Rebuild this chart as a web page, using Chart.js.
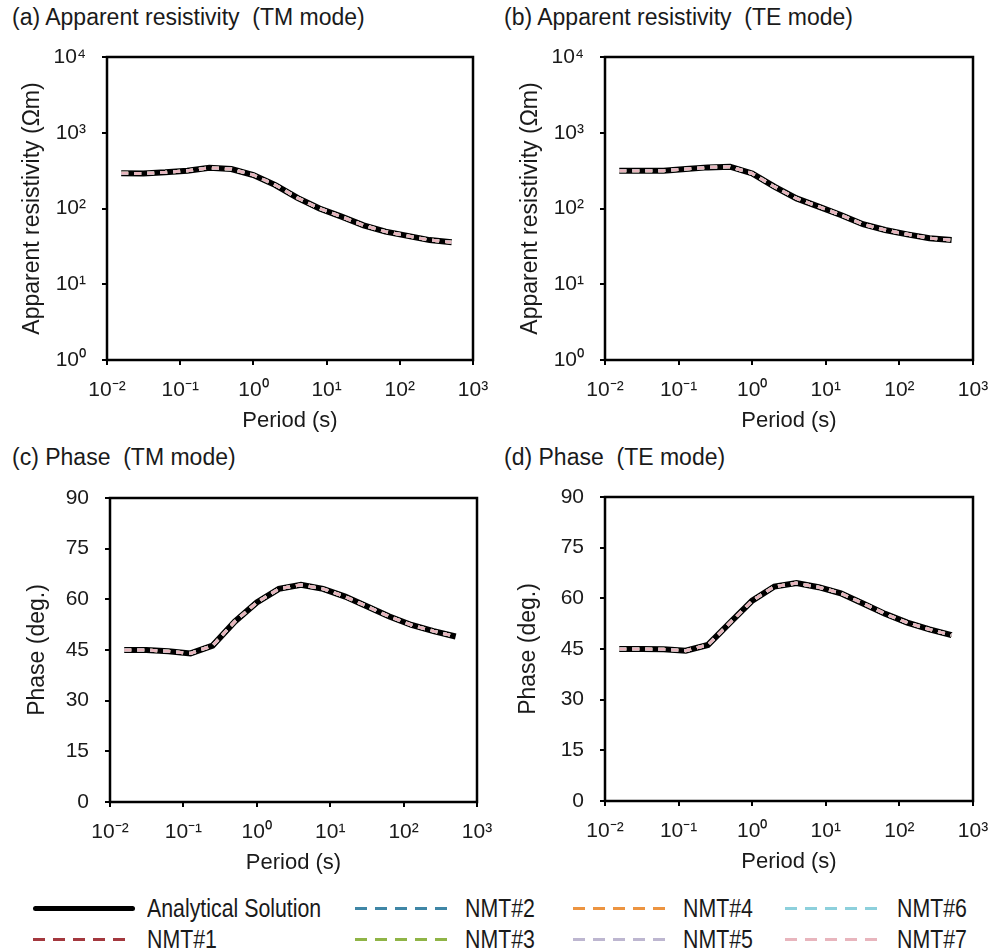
<!DOCTYPE html>
<html>
<head>
<meta charset="utf-8">
<script src="https://cdn.jsdelivr.net/npm/chart.js@4.4.1/dist/chart.umd.min.js"></script>
<style>
    body { margin: 0; width: 1005px; height: 949px; position: relative; overflow: hidden; background: #fff;
           font-family: 'Liberation Sans', Arial, sans-serif; color: #1a1a1a; }
    canvas { position: absolute; }
    .panel-title { position: absolute; font-size: 23px; line-height: 23px; white-space: pre; }
    .lg-line { position: absolute; height: 3px; }
    .lg-text { position: absolute; font-size: 26px; line-height: 26px; white-space: pre;
               transform-origin: left center; transform: scaleX(0.82); }
</style>
</head>
<body>
<div class="panel-title" style="left:12px;top:6px">(a) Apparent resistivity  (TM mode)</div>
<div class="panel-title" style="left:504px;top:6px">(b) Apparent resistivity  (TE mode)</div>
<div class="panel-title" style="left:12px;top:446px">(c) Phase  (TM mode)</div>
<div class="panel-title" style="left:504px;top:446px">(d) Phase  (TE mode)</div>
<canvas id="chart-a" width="500" height="400" style="left:0;top:35px"></canvas>
<canvas id="chart-b" width="505" height="400" style="left:500px;top:35px"></canvas>
<canvas id="chart-c" width="500" height="402" style="left:0;top:475px"></canvas>
<canvas id="chart-d" width="505" height="401" style="left:500px;top:475px"></canvas>
<div id="legend"></div>
<script>
(function() {
    'use strict';

    // 주기 (s)
    var periods = [0.015625, 0.03125, 0.0625, 0.125, 0.25, 0.5, 1, 2, 4, 8, 16, 32, 64, 128, 256, 512];

    // 겉보기 비저항 (Ωm)
    var rhoTM = [292, 290, 300, 315, 345, 332, 277, 204, 138, 100, 78, 60, 49.5, 43.5, 38.3, 35.8];
    var rhoTE = [316, 315, 316, 332, 349, 356, 290, 194, 136, 106, 82, 62, 52, 45.6, 40.5, 38.3];

    // 위상 (deg.)
    var phaseTM = [45.0, 45.0, 44.6, 44.0, 46.3, 53.4, 59.1, 63.1, 64.3, 63.1, 60.8, 57.9, 54.9, 52.4, 50.6, 49.0];
    var phaseTE = [45.0, 45.0, 44.9, 44.5, 46.2, 52.8, 59.3, 63.5, 64.5, 63.3, 61.5, 58.5, 55.4, 52.8, 50.8, 49.1];

    // 축 눈금
    var periodTicks = [0.01, 0.1, 1, 10, 100, 1000];
    var periodTickLabels = ['10⁻²', '10⁻¹', '10⁰', '10¹', '10²', '10³'];
    var rhoTicks = [1, 10, 100, 1000, 10000];
    var rhoTickLabels = ['10⁰', '10¹', '10²', '10³', '10⁴'];
    var phaseTicks = [0, 15, 30, 45, 60, 75, 90];
    var phaseTickLabels = ['0', '15', '30', '45', '60', '75', '90'];

    // 시리즈
    var seriesNames = ['Analytical Solution', 'NMT#1', 'NMT#2', 'NMT#3', 'NMT#4', 'NMT#5', 'NMT#6', 'NMT#7'];
    var seriesColors = ['#000000', '#a3383e', '#3f86a6', '#8fb446', '#ec9440', '#bdb6d0', '#8dd0dc', '#e8b5bd'];

    var FONT = "'Liberation Sans', Arial, sans-serif";
    Chart.defaults.font.family = FONT;
    Chart.defaults.color = '#1a1a1a';

    /**
     * 플롯 테두리
     */
    var framePlugin = {
        id: 'frame',
        afterDraw: function(chart) {
            var a = chart.chartArea;
            var ctx = chart.ctx;
            ctx.save();
            ctx.strokeStyle = '#000';
            ctx.lineWidth = 2.5;
            ctx.strokeRect(a.left, a.top, a.right - a.left, a.bottom - a.top);
            ctx.restore();
        }
    };

    function fixedTicks(values) {
        return function(axis) {
            axis.ticks = values.map(function(v) { return { value: v }; });
        };
    }

    function buildDatasets(values) {
        return seriesNames.map(function(name, i) {
            var points = periods.map(function(p, k) {
                return { x: p, y: values[k] };
            });
            return {
                label: name,
                data: points,
                borderColor: seriesColors[i],
                borderWidth: i === 0 ? 6 : 3,
                borderDash: i === 0 ? [] : [7, 6],
                pointRadius: 0,
                tension: 0,
                fill: false,
                order: seriesNames.length - i
            };
        });
    }

    /**
     * 패널 생성
     */
    function makePanel(id, values, yCfg, box) {
        var ctx = document.getElementById(id);
        if (!ctx) return;

        var yScale = {
            type: yCfg.type,
            min: yCfg.ticks[0],
            max: yCfg.ticks[yCfg.ticks.length - 1],
            afterBuildTicks: fixedTicks(yCfg.ticks),
            afterFit: function(s) {
                // 레이아웃은 padding 값으로만 고정
                s.width = box.yWidth;
                s.paddingTop = 0;
                s.paddingBottom = 0;
            },
            title: {
                display: true,
                text: yCfg.title,
                font: { size: 23 },
                padding: { top: box.yTitlePad, bottom: 0 }
            },
            grid: { drawOnChartArea: false, drawTicks: true, tickLength: 5, color: '#000', lineWidth: 2 },
            border: { display: false },
            ticks: {
                autoSkip: false,
                padding: 16,
                font: { size: 21 },
                callback: function(value, index) { return yCfg.labels[index]; }
            }
        };

        new Chart(ctx, {
            type: 'line',
            data: { datasets: buildDatasets(values) },
            options: {
                responsive: false,
                animation: false,
                events: [],
                layout: { padding: { top: box.padTop, right: box.padRight, left: 0, bottom: 0 } },
                plugins: {
                    legend: { display: false },
                    tooltip: { enabled: false }
                },
                scales: {
                    x: {
                        type: 'logarithmic',
                        min: 0.01,
                        max: 1000,
                        afterBuildTicks: fixedTicks(periodTicks),
                        afterFit: function(s) {
                            s.height = box.xHeight;
                            s.paddingLeft = 0;
                            s.paddingRight = 0;
                        },
                        title: {
                            display: true,
                            text: 'Period (s)',
                            font: { size: 22 },
                            padding: { top: 0, bottom: 1 }
                        },
                        grid: { drawOnChartArea: false, drawTicks: true, tickLength: 5, color: '#000', lineWidth: 2 },
                        border: { display: false },
                        ticks: {
                            autoSkip: false,
                            maxRotation: 0,
                            padding: 13,
                            font: { size: 21 },
                            callback: function(value, index) { return periodTickLabels[index]; }
                        }
                    },
                    y: yScale
                }
            },
            plugins: [framePlugin]
        });
    }

    var rhoAxis = { type: 'logarithmic', ticks: rhoTicks, labels: rhoTickLabels, title: 'Apparent resistivity (Ωm)' };
    var phaseAxis = { type: 'linear', ticks: phaseTicks, labels: phaseTickLabels, title: 'Phase (deg.)' };

    makePanel('chart-a', rhoTM, rhoAxis, { padTop: 22, padRight: 27, yWidth: 107, xHeight: 75, yTitlePad: 19 });
    makePanel('chart-b', rhoTE, rhoAxis, { padTop: 22, padRight: 32, yWidth: 105, xHeight: 75, yTitlePad: 17 });
    makePanel('chart-c', phaseTM, phaseAxis, { padTop: 23, padRight: 23, yWidth: 110, xHeight: 75, yTitlePad: 24 });
    makePanel('chart-d', phaseTE, phaseAxis, { padTop: 22, padRight: 32, yWidth: 105, xHeight: 75, yTitlePad: 15 });

    /**
     * 범례 (4열 x 2행)
     */
    function buildLegend() {
        var colLine = [33, 355, 573, 785];
        var colText = [147, 465, 683, 897];
        var rowY = [908, 939];
        var legend = document.getElementById('legend');

        seriesNames.forEach(function(name, i) {
            var col = i === 0 ? 0 : Math.floor(i / 2);
            var row = i % 2 === 1 ? 1 : 0;

            var line = document.createElement('div');
            line.className = 'lg-line';
            line.style.left = colLine[col] + 'px';
            if (i === 0) {
                line.style.width = '102px';
                line.style.height = '5px';
                line.style.top = (rowY[row] - 2.5) + 'px';
                line.style.background = seriesColors[i];
                line.style.borderRadius = '3px';
            } else {
                line.style.width = '92px';
                line.style.top = (rowY[row] - 1.5) + 'px';
                line.style.background = 'repeating-linear-gradient(to right, ' + seriesColors[i] +
                    ' 0 12px, transparent 12px 20px)';
            }
            legend.appendChild(line);

            var text = document.createElement('div');
            text.className = 'lg-text';
            text.textContent = name;
            text.style.left = colText[col] + 'px';
            text.style.top = (rowY[row] - 13) + 'px';
            legend.appendChild(text);
        });
    }

    buildLegend();
})();
</script>
</body>
</html>
